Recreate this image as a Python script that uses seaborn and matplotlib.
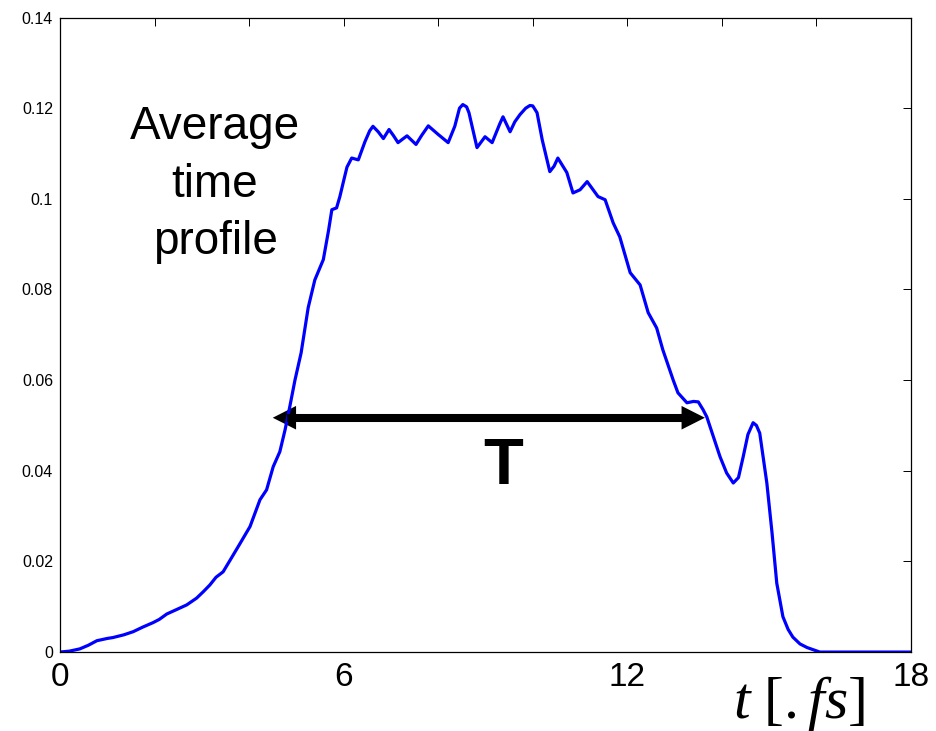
import matplotlib
matplotlib.use("Agg")
import matplotlib.pyplot as plt
import seaborn as sns
from matplotlib.patches import FancyArrowPatch

# Average pulse time profile (time in fs, intensity in arb. units)
time_fs = [0.0, 0.2, 0.42, 0.6, 0.78, 1.0, 1.12, 1.35, 1.55, 1.75, 1.97, 2.1,
           2.26, 2.45, 2.68, 2.89, 3.03, 3.17, 3.3, 3.45, 3.6, 3.8, 4.02, 4.23,
           4.37, 4.51, 4.65, 4.76, 4.86, 4.97, 5.1, 5.25, 5.39, 5.57, 5.68, 5.75,
           5.85, 5.92, 6.0, 6.07, 6.17, 6.31, 6.45, 6.55, 6.62, 6.73, 6.84, 6.96,
           7.05, 7.15, 7.25, 7.34, 7.53, 7.65, 7.79, 8.0, 8.21, 8.35, 8.45, 8.52,
           8.6, 8.65, 8.82, 8.99, 9.14, 9.3, 9.37, 9.52, 9.62, 9.73, 9.85, 9.94,
           10.0, 10.09, 10.2, 10.36, 10.45, 10.53, 10.72, 10.85, 11.0, 11.15,
           11.38, 11.53, 11.7, 11.84, 12.06, 12.27, 12.44, 12.62, 12.75, 12.97,
           13.07, 13.26, 13.4, 13.5, 13.6, 13.68, 13.96, 14.1, 14.24, 14.35,
           14.45, 14.55, 14.66, 14.73, 14.8, 14.95, 15.06, 15.16, 15.29, 15.4,
           15.5, 15.65, 15.8, 16.07, 17.0, 18.0]
intensity = [0.0000, 0.0002, 0.0007, 0.0015, 0.0025, 0.0030, 0.0032, 0.0038,
             0.0045, 0.0055, 0.0065, 0.0072, 0.0084, 0.0093, 0.0104, 0.0119,
             0.0133, 0.0148, 0.0165, 0.0177, 0.0203, 0.0238, 0.0277, 0.0336,
             0.0358, 0.0409, 0.0442, 0.0490, 0.0541, 0.0600, 0.0660, 0.0760,
             0.0821, 0.0866, 0.0930, 0.0976, 0.0980, 0.1005, 0.1040, 0.1070,
             0.1090, 0.1086, 0.1126, 0.1150, 0.1160, 0.1148, 0.1133, 0.1153,
             0.1140, 0.1124, 0.1132, 0.1139, 0.1120, 0.1140, 0.1161, 0.1142,
             0.1124, 0.1160, 0.1200, 0.1208, 0.1203, 0.1190, 0.1113, 0.1137,
             0.1124, 0.1165, 0.1181, 0.1148, 0.1170, 0.1186, 0.1200, 0.1206,
             0.1205, 0.1190, 0.1130, 0.1060, 0.1072, 0.1090, 0.1058, 0.1013,
             0.1020, 0.1038, 0.1005, 0.0998, 0.0947, 0.0916, 0.0837, 0.0810,
             0.0749, 0.0715, 0.0667, 0.0600, 0.0572, 0.0550, 0.0553, 0.0552,
             0.0535, 0.0519, 0.0431, 0.0395, 0.0373, 0.0385, 0.0431, 0.0480,
             0.0506, 0.0500, 0.0483, 0.0373, 0.0263, 0.0152, 0.0078, 0.0050,
             0.0033, 0.0018, 0.0010, 0.0000, 0.0000, 0.0000]

x_ticks = [0, 2, 4, 6, 8, 10, 12, 14, 16, 18]
x_tick_labels = ["0", "", "", "6", "", "", "12", "", "", "18"]
y_ticks = [0, 0.02, 0.04, 0.06, 0.08, 0.1, 0.12, 0.14]
y_tick_labels = ["0", "0.02", "0.04", "0.06", "0.08", "0.1", "0.12", "0.14"]

# span of the pulse duration T
span_start, span_end, span_level = 4.5, 13.64, 0.0517

sns.set_theme(style="white")
plt.rcParams["font.family"] = ["Liberation Sans", "DejaVu Sans"]
plt.rcParams["mathtext.fontset"] = "custom"
plt.rcParams["mathtext.rm"] = "Liberation Serif"
plt.rcParams["mathtext.it"] = "Liberation Serif:italic"

fig = plt.figure(figsize=(9.37, 7.31), dpi=100)
ax = fig.add_axes([0.064, 0.108, 0.9083, 0.868])

sns.lineplot(x=time_fs, y=intensity, ax=ax, color="#0000ff", linewidth=2.3)
for line in ax.get_lines():
    line.set_solid_joinstyle("round")

ax.set_xlim(0, 18)
ax.set_ylim(0, 0.14)
ax.set_xticks(x_ticks)
ax.set_xticklabels(x_tick_labels)
ax.set_yticks(y_ticks)
ax.set_yticklabels(y_tick_labels)
ax.set_xlabel("")
ax.set_ylabel("")

for side in ["left", "right", "top", "bottom"]:
    ax.spines[side].set_visible(True)
    ax.spines[side].set_color("black")
    ax.spines[side].set_linewidth(0.9)

ax.tick_params(axis="both", which="major", direction="in", length=6,
               width=0.7, color="black", top=True, right=True)
ax.tick_params(axis="x", labelsize=24, pad=7, labelcolor="black")
ax.tick_params(axis="y", labelsize=11.5, pad=5, labelcolor="black")

# double-headed arrow: a thick shaft plus a filled head at each end
ax.plot([span_start + 0.3, span_end - 0.3], [span_level, span_level],
        color="black", linewidth=5.8, solid_capstyle="butt")
for end, inner in ((span_start, span_start + 1.0), (span_end, span_end - 1.0)):
    head = FancyArrowPatch((inner, span_level), (end, span_level),
                           arrowstyle="simple,head_length=0.84,head_width=0.85,tail_width=0.1",
                           mutation_scale=20, color="black", lw=0,
                           shrinkA=0, shrinkB=0)
    ax.add_patch(head)

ax.text(9.37, 0.0408, "T", fontsize=47, fontweight="bold", ha="center",
        va="center", color="black")
ax.text(3.28, 0.1031, "Average\ntime\nprofile", fontsize=33, ha="center",
        va="center", multialignment="center", color="black", linespacing=1.4)

fig.text(0.853, 0.018, r"$t\ [.fs]$", fontsize=43, ha="center", va="baseline",
         color="black")

fig.savefig("out.png", dpi=100, facecolor="white")
